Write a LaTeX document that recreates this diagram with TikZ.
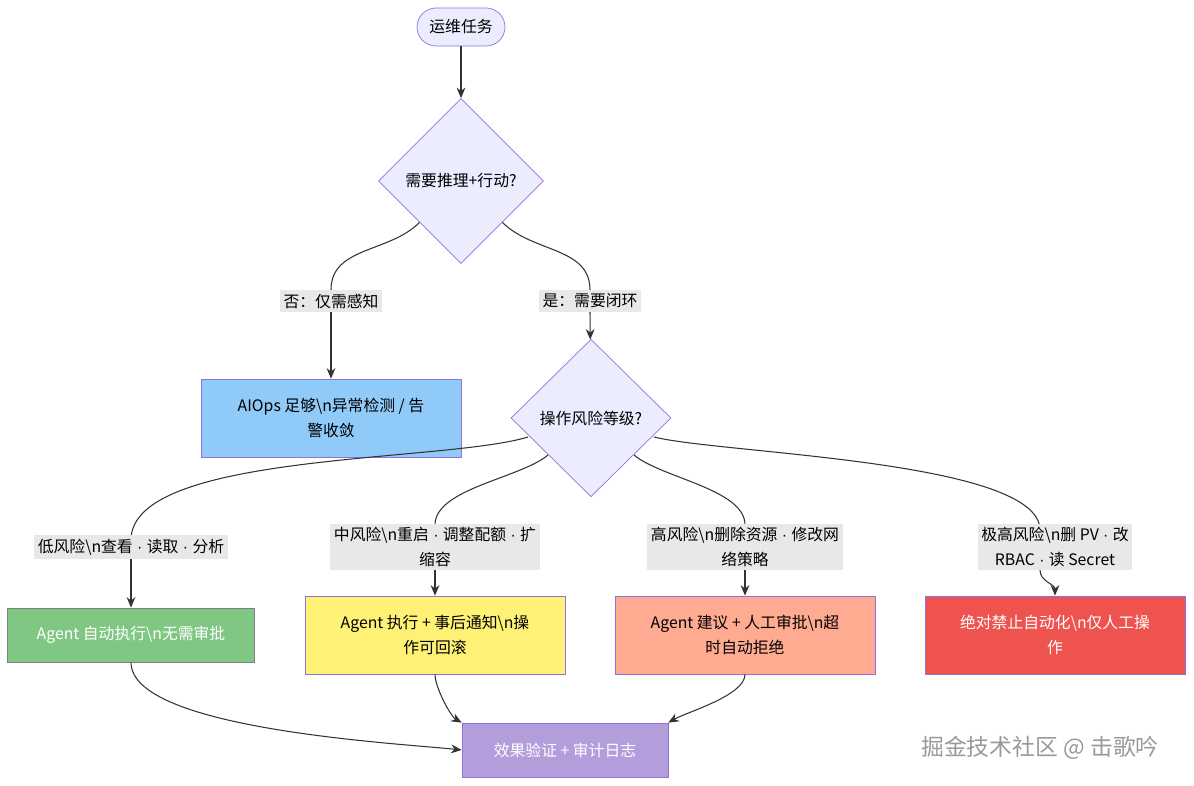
\documentclass[tikz,border=0pt]{standalone}
\usepackage{fontspec}
\setmainfont{Noto Sans CJK SC}
\newfontfamily\latfont{Liberation Sans}
\newcommand{\md}{{\latfont\ ·\ }}
\usetikzlibrary{shapes.geometric, arrows.meta, positioning}
\definecolor{nodefill}{HTML}{ECECFF}
\definecolor{nodeline}{HTML}{9370DB}
\definecolor{edge}{HTML}{333333}
\definecolor{lblbg}{HTML}{E8E8E8}
\tikzset{
  box/.style={rectangle, draw=nodeline, minimum width=5.2cm, minimum height=1.56cm, align=center, font=\fontsize{9}{14}\selectfont},
  decision/.style={diamond, draw=nodeline, fill=nodefill, minimum width=3.3cm, minimum height=3.3cm, inner sep=0pt, font=\fontsize{9}{12}\selectfont},
  lbl/.style={fill=lblbg, inner sep=2pt, align=center, font=\fontsize{9}{14}\selectfont},
  flow/.style={draw=edge, line width=0.6pt},
  arr/.style={flow, -{Stealth[length=6pt,width=5pt]}}
}
\begin{document}
\begin{tikzpicture}[x=0.02cm, y=-0.02cm]
  \useasboundingbox (0,0) rectangle (1194,786);

  \node[rounded corners=0.38cm, draw=nodeline, fill=nodefill, minimum width=1.76cm, minimum height=0.76cm, font=\fontsize{9}{12}\selectfont] (task) at (461,27) {运维任务};
  \node[decision] (need) at (461,181) {需要推理+行动?};
  \node[box, fill={rgb,255:red,144;green,202;blue,249}] (aiops) at (331,418) {AIOps 足够\textbackslash n异常检测 / 告\\警收敛};
  \node[decision, minimum width=3.2cm, minimum height=3.15cm] (risk) at (591,418) {操作风险等级?};

  \node[box, fill={rgb,255:red,129;green,199;blue,132}, draw=gray, text=white, minimum width=4.94cm, minimum height=1.08cm] (low) at (131,635) {Agent 自动执行\textbackslash n无需审批};
  \node[box, fill={rgb,255:red,255;green,241;blue,118}] (mid) at (435,635) {Agent 执行 + 事后通知\textbackslash n操\\作可回滚};
  \node[box, fill={rgb,255:red,255;green,171;blue,145}] (high) at (745,635) {Agent 建议 + 人工审批\textbackslash n超\\时自动拒绝};
  \node[box, fill={rgb,255:red,239;green,83;blue,80}, text=white] (ban) at (1055,635) {绝对禁止自动化\textbackslash n仅人工操\\作};
  \node[box, fill={rgb,255:red,179;green,157;blue,219}, text=white, minimum width=4.12cm, minimum height=1.08cm] (check) at (565,750) {效果验证 + 审计日志};

  % edges
  \draw[arr] (task) -- (need);
  \draw[flow] (need) to[out=225,in=90] (331,290);
  \draw[arr] (331,312) -- (aiops);
  \draw[flow] (need) to[out=-45,in=90] (590,290);
  \draw[arr] (590,312) -- (risk);
  \draw[flow] (528,437) to[out=197,in=90,looseness=0.55] (131,540);
  \draw[arr] (131,558) to[out=-90,in=90] (low);
  \draw[flow] (548,455) to[out=220,in=90,looseness=0.7] (435,525);
  \draw[arr] (435,570) -- (mid);
  \draw[flow] (634,455) to[out=-40,in=90,looseness=0.7] (745,525);
  \draw[arr] (745,570) -- (high);
  \draw[flow] (654,437) to[out=-14,in=90,looseness=0.45] (1040,530);
  \draw[arr] (1040,570) to[out=-90,in=90] (ban);
  \draw[arr] (low.south) to[out=-90,in=174,looseness=0.5] (check.west);
  \draw[arr] (mid.south) to[out=-90,in=150,looseness=0.6] (check.north west);
  \draw[arr] (high.south) to[out=-90,in=30,looseness=0.6] (check.north east);

  % labels
  \node[lbl] (no) at (331,301) {否：仅需感知};
  \node[lbl] (yes) at (590,301) {是：需要闭环};
  \node[lbl] (lowlbl) at (131,547) {低风险\textbackslash n查看\md{}读取\md{}分析};
  \node[lbl] (midlbl) at (435,547) {中风险\textbackslash n重启\md{}调整配额\md{}扩\\缩容};
  \node[lbl] (highlbl) at (745,547) {高风险\textbackslash n删除资源\md{}修改网\\络策略};
  \node[lbl] (banlbl) at (1055,547) {极高风险\textbackslash n删 PV\md{}改\\RBAC\md{}读 Secret};

  \node[text=gray!80, font=\fontsize{13}{16}\selectfont] (mark) at (1040,748) {掘金技术社区 @ 击歌吟};
\end{tikzpicture}
\end{document}
